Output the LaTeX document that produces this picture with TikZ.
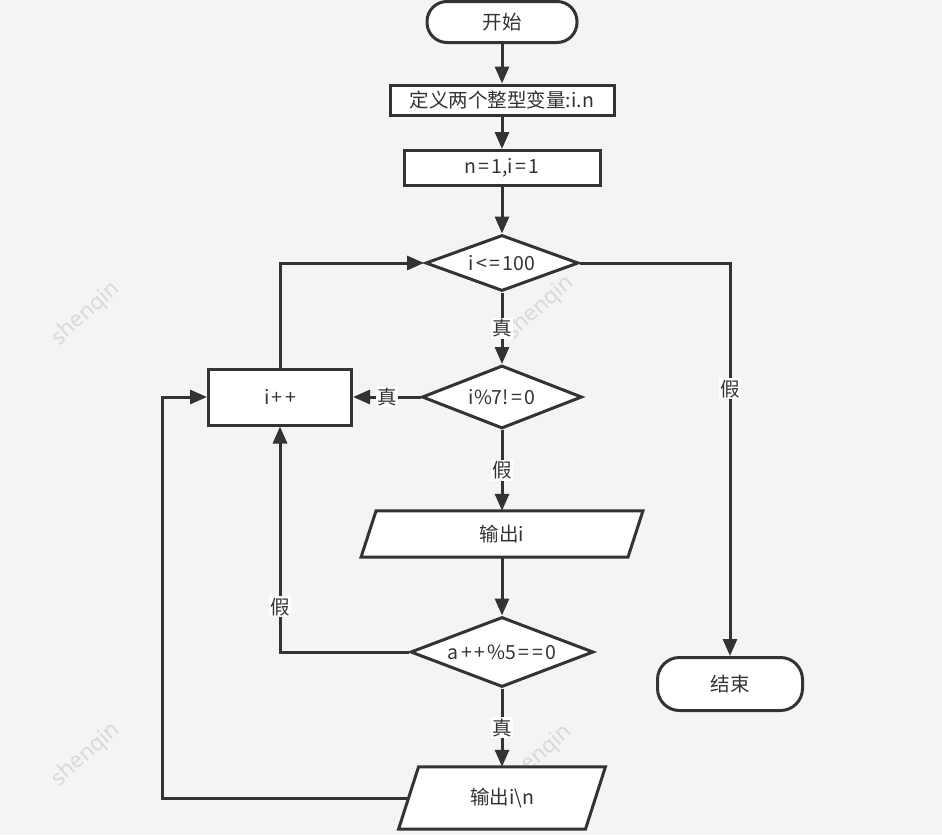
\documentclass[tikz,border=0pt]{standalone}
\usepackage{fontspec}
\setmainfont{Noto Sans CJK SC}
\newfontfamily\wmfont{Noto Sans}
\usetikzlibrary{shapes.geometric,arrows.meta,calc}
\definecolor{bg}{HTML}{F4F4F4}
\definecolor{ln}{HTML}{333333}
\definecolor{wm}{HTML}{D9D9D9}
\newcommand{\opx}[1]{\hspace{2.3pt}#1\hspace{2.3pt}}
\begin{document}
\begin{tikzpicture}[x=1pt,y=-1pt,
  every node/.style={font=\fontsize{19.5}{23}\selectfont, text=ln},
  shp/.style={draw=ln, line width=3pt, fill=white, inner sep=0pt},
  term/.style={shp, rectangle, rounded corners=20pt},
  proc/.style={shp, rectangle},
  dec/.style={shp, diamond},
  iobox/.style={rectangle, inner sep=0pt},
  arr/.style={draw=ln, line width=3pt, -{Triangle[length=17pt,width=14pt]}},
  lbl/.style={fill=white, inner sep=1.5pt, text=ln},
  wmark/.style={font=\wmfont\fontsize{22}{24}\selectfont, text=wm, rotate=42}
]
\fill[bg] (0,0) rectangle (942,835);
\useasboundingbox (0,0) rectangle (942,835);

% watermarks
\node[wmark] (w1) at (86,314) {shenqin};
\node[wmark] (w2) at (540,308) {shenqin};
\node[wmark] (w3) at (86,755) {shenqin};
\node[wmark] (w4) at (538,757) {shenqin};

% nodes
\node[term, minimum width=150pt, minimum height=41pt] (start) at (502,22) {开始};
\node[proc, minimum width=224pt, minimum height=30pt] (def) at (502,100) {定义两个整型变量:i.n};
\node[proc, minimum width=196pt, minimum height=35pt] (init) at (502,168) {n\opx{=}1,i\opx{=}1};
\node[dec, minimum width=153pt, minimum height=56pt] (d1) at (502,263) {};
\node at (d1.center) {i\opx{<}\hspace{-2pt}\opx{=}100};
\node[dec, minimum width=160pt, minimum height=63pt] (d2) at (502,397) {};
\node at (d2.center) {i\%7!\opx{=}0};
\node[proc, minimum width=143pt, minimum height=56pt] (ipp) at (280,397) {i\opx{+}\hspace{-2pt}\opx{+}};

\node[iobox, minimum width=266.5pt, minimum height=46pt] (out1) at (502,534) {};
\draw[shp] ($(out1.north west)+(7.5,0)$) -- ($(out1.north east)+(7.5,0)$)
  -- ($(out1.south east)+(-7.5,0)$) -- ($(out1.south west)+(-7.5,0)$) -- cycle;
\node at (out1.center) {输出i};

\node[dec, minimum width=183pt, minimum height=70pt] (d3) at (502,652) {};
\node at (d3.center) {a\opx{+}\hspace{-2pt}\opx{+}\%5\opx{=}\hspace{-2pt}\opx{=}0};

\node[iobox, minimum width=186.5pt, minimum height=62pt] (out2) at (502,798) {};
\draw[shp] ($(out2.north west)+(10,0)$) -- ($(out2.north east)+(10,0)$)
  -- ($(out2.south east)+(-10,0)$) -- ($(out2.south west)+(-10,0)$) -- cycle;
\node at (out2.center) {输出i\textbackslash n};

\node[term, minimum width=145pt, minimum height=53pt, rounded corners=22pt] (end) at (730,684) {结束};

% connectors
\draw[arr] (start) -- (def);
\draw[arr] (def) -- (init);
\draw[arr] (init) -- (d1.north);
\draw[arr] (d1.south) -- node[lbl] {真} (d2.north);
\draw[arr] (d2.west) -- node[lbl] {真} (ipp.east);
\draw[arr] (d2.south) -- node[lbl] {假} (out1.north);
\draw[arr] (out1.south) -- (d3.north);
\draw[arr] (d3.south) -- node[lbl] {真} (out2.north);
\draw[arr] (d3.west) -| node[lbl, pos=0.6] {假} (ipp.south);
\draw[arr] (ipp.north) |- (d1.west);
\draw[arr] (d1.east) -| node[lbl, pos=0.66] {假} (end.north);
\draw[arr] (out2.west) -| ([xshift=-45pt]ipp.west) -- (ipp.west);
\end{tikzpicture}
\end{document}
